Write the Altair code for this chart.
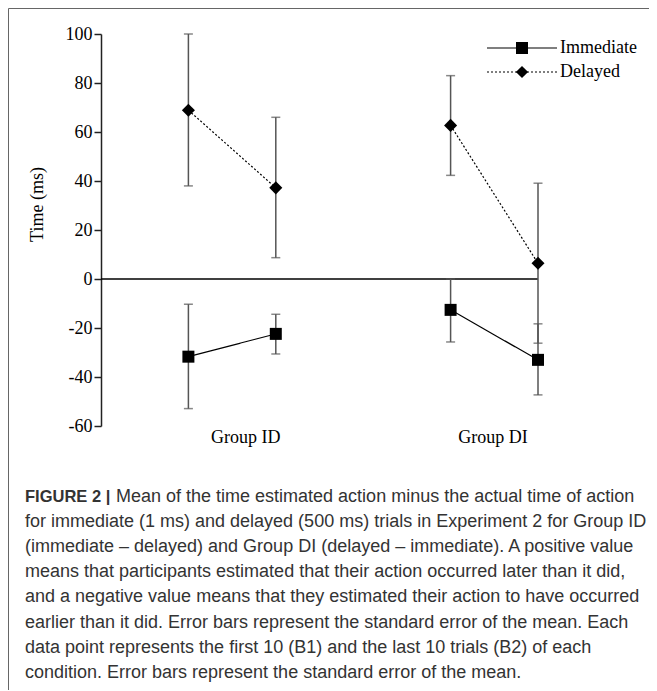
import altair as alt
import pandas as pd

# ---- data ----
series = ["Immediate", "Delayed"]
groups = ["Group ID", "Group ID", "Group DI", "Group DI"]
blocks = ["B1", "B2", "B1", "B2"]
x_pos = [1, 2, 4, 5]
group_labels = ["Group ID", "Group DI"]
group_label_pos = [1.65, 4.48]

immediate_mean = [-31.7, -22.4, -12.6, -33.0]
immediate_lo = [-52.9, -30.6, -25.7, -47.3]
immediate_hi = [-10.3, -14.4, 0.0, -18.3]

delayed_mean = [68.9, 37.2, 62.7, 6.4]
delayed_lo = [38.0, 8.7, 42.3, -26.2]
delayed_hi = [100.0, 66.0, 83.0, 39.1]

y_ticks = [-60, -40, -20, 0, 20, 40, 60, 80, 100]

caption_bold = "FIGURE 2 |"
caption_lines = [
    "Mean of the time estimated action minus the actual time of action",
    "for immediate (1 ms) and delayed (500 ms) trials in Experiment 2 for Group ID",
    "(immediate \u2013 delayed) and Group DI (delayed \u2013 immediate). A positive value",
    "means that participants estimated that their action occurred later than it did,",
    "and a negative value means that they estimated their action to have occurred",
    "earlier than it did. Error bars represent the standard error of the mean. Each",
    "data point represents the first 10 (B1) and the last 10 trials (B2) of each",
    "condition. Error bars represent the standard error of the mean.",
]

rows = []
for name, m, lo, hi in [
    ("Immediate", immediate_mean, immediate_lo, immediate_hi),
    ("Delayed", delayed_mean, delayed_lo, delayed_hi),
]:
    for i in range(4):
        rows.append({"series": name, "group": groups[i], "block": blocks[i],
                     "x": x_pos[i], "mean": m[i], "lo": lo[i], "hi": hi[i],
                     "pair": name + groups[i]})
df = pd.DataFrame(rows)

SERIF = "Liberation Serif"
SANS = "Liberation Sans"
W, H = 437, 392
TOTAL_H = 682

xscale = alt.Scale(domain=[0, 5], nice=False, zero=False)
yscale = alt.Scale(domain=[-60, 100], nice=False, zero=False)

X = alt.X("x:Q", scale=xscale,
          axis=alt.Axis(values=group_label_pos, title=None, domain=False, ticks=False, grid=False,
                        labelFont=SERIF, labelFontSize=18, labelColor="black", labelPadding=2,
                        labelExpr="datum.value < 3 ? '" + group_labels[0] + "' : '" + group_labels[1] + "'"))
Y = alt.Y("mean:Q", scale=yscale,
          axis=alt.Axis(values=y_ticks, title="Time (ms)", grid=False,
                        labelExpr="datum.value < 0 ? '-' + abs(datum.value) : '' + datum.value",
                        domainColor="#222", domainWidth=1.5, tickColor="#222", tickWidth=1.5,
                        tickSize=7, labelPadding=2, labelFont=SERIF, labelFontSize=18,
                        labelColor="black", titleFont=SERIF, titleFontSize=18,
                        titleFontWeight="normal", titleColor="black",
                        titleX=-64, titleY=170, titleAngle=270, titleBaseline="middle",
                        titleAlign="center"))

base = alt.Chart(df)

zero_df = pd.DataFrame({"x": [0], "x2": [5], "y": [0]})
zero_line = alt.Chart(zero_df).mark_rule(color="black", strokeWidth=1.5).encode(
    x=alt.X("x:Q", scale=xscale), x2="x2:Q", y=alt.Y("y:Q", scale=yscale))

err = base.mark_rule(color="#555", strokeWidth=1.5).encode(
    x=alt.X("x:Q", scale=xscale), y=alt.Y("lo:Q", scale=yscale), y2="hi:Q")
cap_lo = base.mark_tick(orient="horizontal", color="#555", size=9, thickness=1.5).encode(
    x=alt.X("x:Q", scale=xscale), y=alt.Y("lo:Q", scale=yscale))
cap_hi = base.mark_tick(orient="horizontal", color="#555", size=9, thickness=1.5).encode(
    x=alt.X("x:Q", scale=xscale), y=alt.Y("hi:Q", scale=yscale))

lines = base.mark_line(color="black", strokeWidth=1.2).encode(
    x=X, y=Y, detail="pair:N",
    strokeDash=alt.StrokeDash("series:N", scale=alt.Scale(domain=series, range=[[1, 0], [2, 2]]), legend=None))

points = base.mark_point(filled=True, opacity=1, color="black", strokeWidth=0).encode(
    x=alt.X("x:Q", scale=xscale), y=alt.Y("mean:Q", scale=yscale),
    shape=alt.Shape("series:N", scale=alt.Scale(domain=series, range=["square", "diamond"]), legend=None),
    size=alt.Size("series:N", scale=alt.Scale(domain=series, range=[144, 170]), legend=None))

one = pd.DataFrame({"k": [0]})
layers = [zero_line, err, cap_lo, cap_hi, lines, points]

# legend (drawn by hand)
leg_shapes = ["square", "diamond"]
leg_dash = [[1, 0], [2, 2]]
leg_sizes = [144, 150]
for i, name in enumerate(series):
    yy = 14 + 24 * i
    layers.append(alt.Chart(one).mark_rule(color="black", strokeWidth=1.2, strokeDash=leg_dash[i]).encode(
        x=alt.value(386), x2=alt.value(456), y=alt.value(yy)))
    layers.append(alt.Chart(one).mark_point(filled=True, opacity=1, color="black", strokeWidth=0,
                                            shape=leg_shapes[i], size=leg_sizes[i]).encode(
        x=alt.value(421), y=alt.value(yy)))
    layers.append(alt.Chart(one).mark_text(align="left", baseline="middle", font=SERIF, fontSize=18,
                                           color="black").encode(
        x=alt.value(459), y=alt.value(yy), text=alt.value(name)))

# frame
layers.append(alt.Chart(one).mark_rule(color="#666", strokeWidth=1).encode(
    x=alt.value(-92.5), x2=alt.value(548), y=alt.value(-25.5)))
layers.append(alt.Chart(one).mark_rule(color="#666", strokeWidth=1).encode(
    x=alt.value(-92.5), y=alt.value(-25.5), y2=alt.value(TOTAL_H)))

# caption
layers.append(alt.Chart(one).mark_text(align="left", baseline="middle", font=SANS, fontSize=16.5,
                                       fontWeight="bold", color="#333").encode(
    x=alt.value(-76), y=alt.value(463), text=alt.value(caption_bold)))
for i, line in enumerate(caption_lines):
    xx = 15 if i == 0 else -76
    layers.append(alt.Chart(one).mark_text(align="left", baseline="middle", font=SANS, fontSize=18,
                                           color="#333").encode(
        x=alt.value(xx), y=alt.value(463 + 25.1 * i), text=alt.value(line)))

chart = alt.layer(*layers).properties(
    width=W, height=H,
    padding={"left": 93, "top": 26, "right": 111, "bottom": TOTAL_H - 26 - H},
    autosize=alt.AutoSizeParams(type="none"),
    background="white",
).configure_view(stroke=None)

chart.save("out.html", embed_options={"renderer": "svg", "actions": False})
